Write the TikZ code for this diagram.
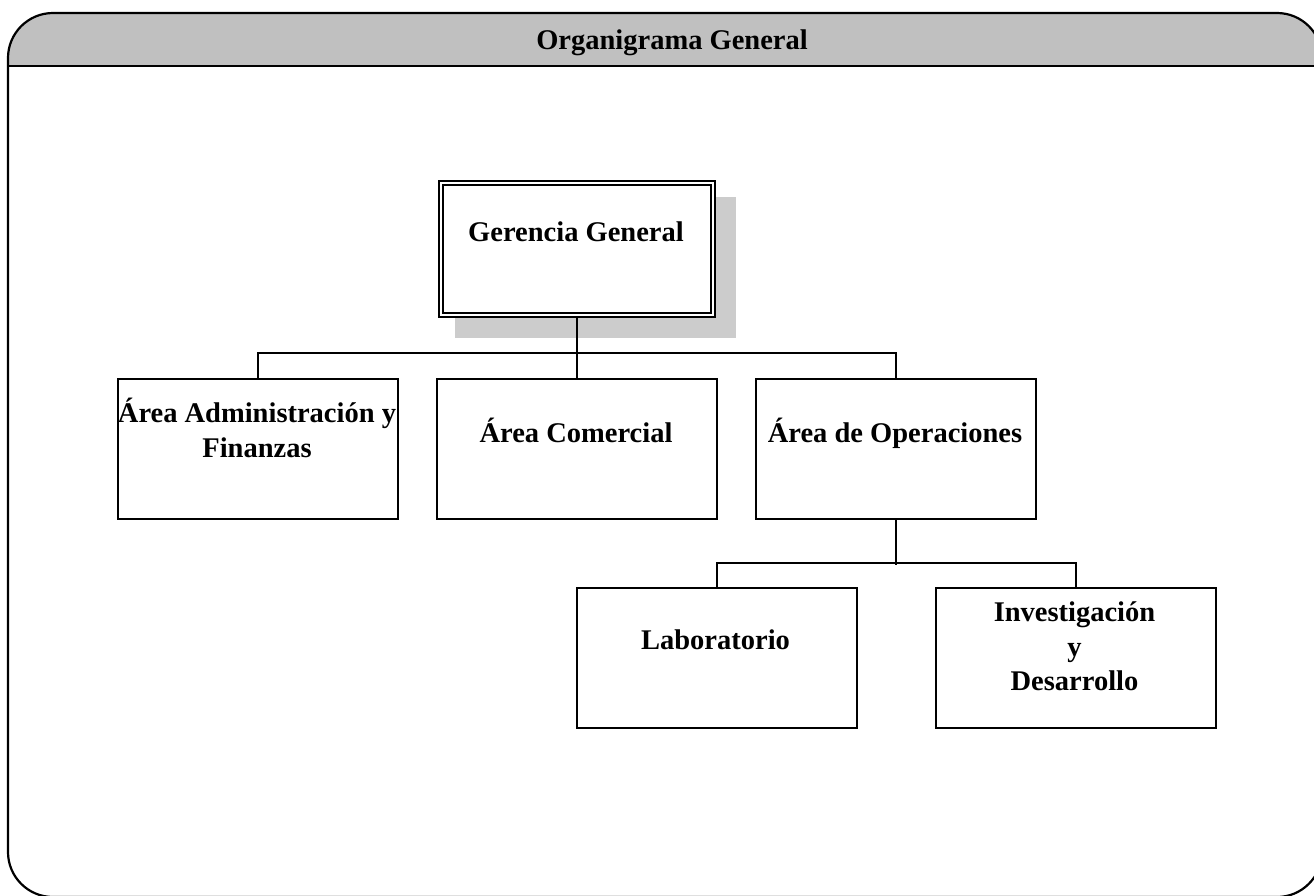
\documentclass[tikz,border=0pt]{standalone}
\usepackage{fontspec}
\setmainfont{Liberation Serif}
\definecolor{hdrgray}{RGB}{192,192,192}
\definecolor{shadowgray}{RGB}{204,204,204}
\begin{document}
\begin{tikzpicture}[x=1pt,y=-1pt,
  unit/.style={draw, line width=1.8pt, minimum width=280pt, minimum height=140pt,
    inner sep=0pt, anchor=north west},
  head/.style={draw, fill=white, line width=2pt, double=white, double distance=2.4pt,
    minimum width=272pt, minimum height=132pt, inner sep=0pt, anchor=north west},
  lbl/.style={font=\fontsize{28.5}{34.5}\selectfont\bfseries, inner sep=0pt, align=center},
  link/.style={line width=1.8pt}]
\useasboundingbox (0,0) rectangle (1314,895);

% outer frame with grey title band
\begin{scope}
  \clip (0,13) rectangle (1330,66);
  \fill[hdrgray, rounded corners=45pt] (8,13) rectangle (1322,897);
\end{scope}
\draw[line width=2.2pt, rounded corners=45pt] (8,13) rectangle (1322,897);
\draw[line width=2.2pt] (8,66) -- (1322,66);
\node[lbl, anchor=base] (title) at (672,49) {Organigrama General};

% top unit with drop shadow
\fill[shadowgray] (455,197) rectangle (736,338);
\node[head] (ger) at (440,182) {};
\node[lbl, anchor=base] (tger) at (576,241) {Gerencia General};

% second level
\node[unit] (adm) at (117,378) {};
\node[unit] (com) at (436,378) {};
\node[unit] (ope) at (755,378) {};
\node[lbl] (tadm) at (257,428) {Área Administración y\\Finanzas};
\node[lbl, anchor=base] (tcom) at (576,442) {Área Comercial};
\node[lbl, anchor=base] (tope) at (895,442) {Área de Operaciones};

% third level
\node[unit] (lab) at (576,587) {};
\node[unit] (inv) at (935,587) {};
\node[lbl, anchor=base] (tlab) at (715.5,649) {Laboratorio};
\node[lbl] (tinv) at (1074.5,646.5) {Investigación\\y\\Desarrollo};

% connectors
\draw[link] (ger.south) -- (ger.south |- com.north);
\draw[link] (adm.north) -- ++(0,-25) -| (ope.north);
\draw[link] (ope.south) -- ++(0,45) coordinate (split);
\draw[link] (lab.north) -- ++(0,-24) -| (inv.north);
\end{tikzpicture}
\end{document}
